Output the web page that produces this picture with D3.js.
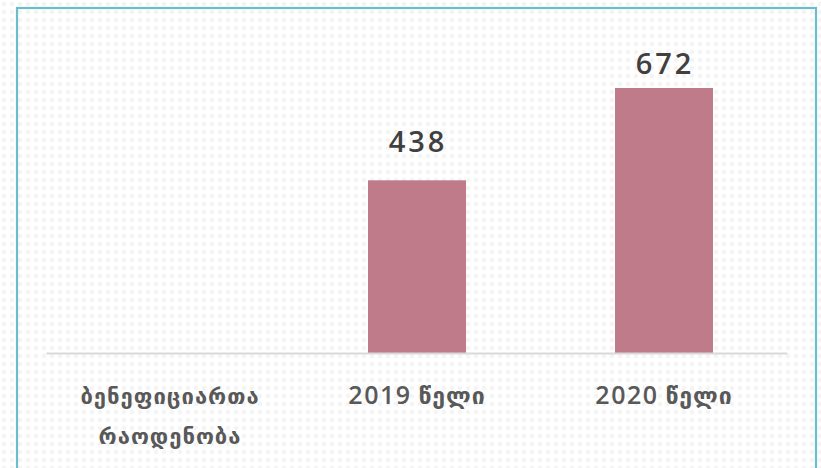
<!DOCTYPE html>
<html>
<head>
<meta charset="utf-8">
<script src="https://cdn.jsdelivr.net/npm/d3@7"></script>
<style>
html,body{margin:0;padding:0;background:#fff;}
svg{display:block;}
</style>
</head>
<body>
<svg id="chart" width="821" height="468"></svg>
<script>
const categories = [["ბენეფიციართა","რაოდენობა"], ["2019 წელი"], ["2020 წელი"]];
const categoryKeys = ["cat0", "2019", "2020"];
const values = [null, 438, 672];

const W = 821, H = 468;
const svg = d3.select("#chart");

const defs = svg.append("defs");
const pat = defs.append("pattern").attr("id","dots").attr("width",8).attr("height",8).attr("patternUnits","userSpaceOnUse");
pat.append("rect").attr("width",8).attr("height",8).attr("fill","#ffffff");
pat.append("circle").attr("cx",4).attr("cy",4).attr("r",2.2).attr("fill","#f4f4f4");
svg.append("rect").attr("width",W).attr("height",H).attr("fill","url(#dots)");

svg.append("rect").attr("x",17).attr("y",8).attr("width",799).attr("height",480)
  .attr("fill","none").attr("stroke","#6cbdcc").attr("stroke-width",2.2);

const plot = {left:46.5, right:787.5, baseline:353, top:74};
const x = d3.scaleBand().domain(categoryKeys).range([plot.left, plot.right]).paddingInner(0.6).paddingOuter(0.3);
const y = d3.scaleLinear().domain([0, 672]).range([plot.baseline, 88]);

const bw = 98;
const data = categoryKeys.map((k,i)=>({k, v:values[i], lab:categories[i]}));

svg.selectAll("rect.bar").data(data.filter(d=>d.v!=null)).enter().append("rect")
  .attr("class","bar")
  .attr("x", d=> x(d.k) + x.bandwidth()/2 - bw/2)
  .attr("width", bw)
  .attr("y", d=> y(d.v))
  .attr("height", d=> plot.baseline - y(d.v))
  .attr("fill","#bf7b8a");

svg.append("line").attr("x1",plot.left).attr("x2",plot.right).attr("y1",plot.baseline+0.5).attr("y2",plot.baseline+0.5)
  .attr("stroke","#d9d9d9").attr("stroke-width",2);

svg.selectAll("text.val").data(data.filter(d=>d.v!=null)).enter().append("text")
  .attr("class","val")
  .attr("x", d=> x(d.k) + x.bandwidth()/2 + 1)
  .attr("y", d=> Math.max(y(d.v) - 28, plot.top))
  .attr("text-anchor","middle")
  .attr("font-family","'Open Sans', 'DejaVu Sans', sans-serif")
  .attr("font-size",29)
  .attr("font-weight",600)
  .attr("letter-spacing",3)
  .attr("fill","#404040")
  .text(d=>d.v);

const cl = svg.selectAll("g.cat").data(data).enter().append("g")
  .attr("transform", d=>`translate(${x(d.k)+x.bandwidth()/2},0)`);
cl.each(function(d){
  const g = d3.select(this);
  d.lab.forEach((line,j)=>{
    const t = g.append("text")
      .attr("x",0)
      .attr("y", 404 + j*40)
      .attr("text-anchor","middle")
      .attr("font-family","'Open Sans', 'DejaVu Sans', sans-serif")
      .attr("font-size",22)
      .attr("font-weight",600)
      .attr("letter-spacing",1)
      .attr("fill","#595959");
    const m = line.match(/^(\d+)(\s.*)$/);
    if (m) {
      t.append("tspan").attr("font-size",25).attr("letter-spacing",1.5).text(m[1]);
      t.append("tspan").attr("font-size",23).text(m[2]);
    } else {
      t.text(line);
    }
  });
});
</script>
</body>
</html>
